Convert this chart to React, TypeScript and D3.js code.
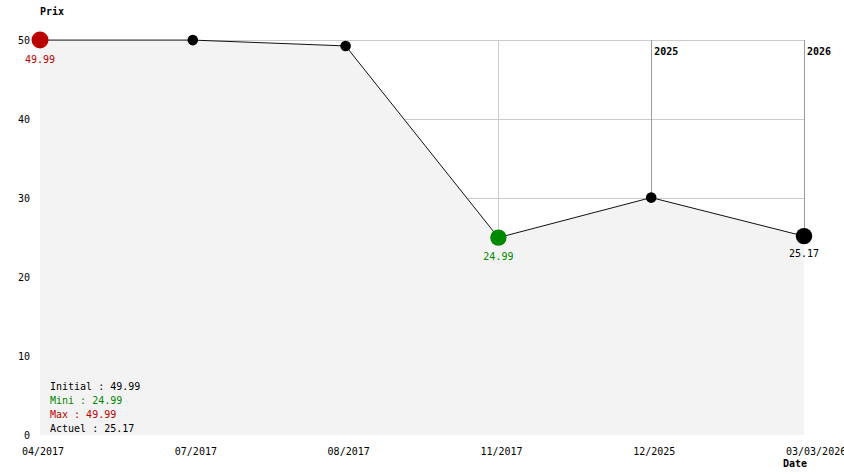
import React from "react";
import * as d3 from "d3";

const categories = ["04/2017", "07/2017", "08/2017", "11/2017", "12/2025", "03/03/2026"];
const prices = [49.99, 49.99, 49.25, 24.99, 30.05, 25.17];
const yTicks = [0, 10, 20, 30, 40, 50];
const yearMarks = [
  { index: 4, label: "2025" },
  { index: 5, label: "2026" },
];
const summary = [
  { text: "Initial : 49.99", color: "#000000" },
  { text: "Mini : 24.99", color: "#008800" },
  { text: "Max : 49.99", color: "#bb0000" },
  { text: "Actuel : 25.17", color: "#000000" },
];

const W = 844;
const H = 474;
const left = 40;
const right = 804;
const top = 40;
const bottom = 435;
const FONT = "'DejaVu Sans Mono', monospace";

export default function App() {
  const x = d3.scalePoint<number>().domain(d3.range(categories.length)).range([left, right]);
  const y = d3.scaleLinear().domain([0, 50]).range([bottom, top]);

  const area = d3
    .area<number>()
    .x((_, i) => x(i)!)
    .y0(bottom)
    .y1((d) => y(d));
  const line = d3
    .line<number>()
    .x((_, i) => x(i)!)
    .y((d) => y(d));

  const maxV = d3.max(prices)!;
  const minV = d3.min(prices)!;
  const maxI = prices.indexOf(maxV);
  const minI = prices.indexOf(minV);
  const lastI = prices.length - 1;

  return (
    <svg
      width={W}
      height={H}
      style={{ position: "absolute", left: 0, top: 0, background: "#fff" }}
      fontFamily={FONT}
      fontSize={10}
    >
      {/* grid */}
      {yTicks.slice(1).map((t) => (
        <line key={"h" + t} x1={left} x2={right} y1={y(t)} y2={y(t)} stroke="#cccccc" strokeWidth={1} shapeRendering="crispEdges" />
      ))}
      {categories.map((_, i) => (
        <line key={"v" + i} x1={x(i)} x2={x(i)} y1={top} y2={y(prices[i])} stroke="#cccccc" strokeWidth={1} shapeRendering="crispEdges" />
      ))}
      {yearMarks.map((m) => (
        <line key={"y" + m.label} x1={x(m.index)} x2={x(m.index)} y1={top} y2={y(prices[m.index])} stroke="#999999" strokeWidth={1} shapeRendering="crispEdges" />
      ))}
      {/* area */}
      <path d={area(prices)!} fill="#f3f3f3" />
      <path d={line(prices)!} fill="none" stroke="#111" strokeWidth={1} />
      {/* year labels */}
      {yearMarks.map((m) => (
        <text key={"yl" + m.label} x={x(m.index)! + 3} y={55} fontWeight="bold" fill="#000">
          {m.label}
        </text>
      ))}
      {/* points */}
      {prices.map((d, i) => {
        let r = 5.3;
        let fill = "#000";
        if (i === maxI) {
          r = 8.5;
          fill = "#bb0000";
        } else if (i === minI) {
          r = 8.2;
          fill = "#008800";
        } else if (i === lastI) {
          r = 8.2;
          fill = "#000";
        }
        return <circle key={"p" + i} cx={x(i)} cy={y(d)} r={r} fill={fill} />;
      })}
      {/* value labels */}
      <text x={x(maxI)} y={y(maxV) + 23} textAnchor="middle" fill="#bb0000">
        {maxV.toFixed(2)}
      </text>
      <text x={x(minI)} y={y(minV) + 22} textAnchor="middle" fill="#008800">
        {minV.toFixed(2)}
      </text>
      <text x={x(lastI)} y={y(prices[lastI]) + 21} textAnchor="middle" fill="#000">
        {prices[lastI].toFixed(2)}
      </text>
      {/* y axis labels */}
      {yTicks.map((t) => (
        <text key={"yt" + t} x={30} y={y(t) + 4} textAnchor="end" fill="#000">
          {t}
        </text>
      ))}
      {/* x axis labels */}
      {categories.map((c, i) => (
        <text key={"xt" + i} x={x(i)! - 18} y={455} fill="#000">
          {c}
        </text>
      ))}
      <text x={40} y={15} fontWeight="bold" fill="#000">Prix</text>
      <text x={783} y={467} fontWeight="bold" fill="#000">Date</text>
      {/* summary */}
      {summary.map((s, i) => (
        <text key={"s" + i} x={50} y={390 + i * 14} fill={s.color}>
          {s.text}
        </text>
      ))}
    </svg>
  );
}
